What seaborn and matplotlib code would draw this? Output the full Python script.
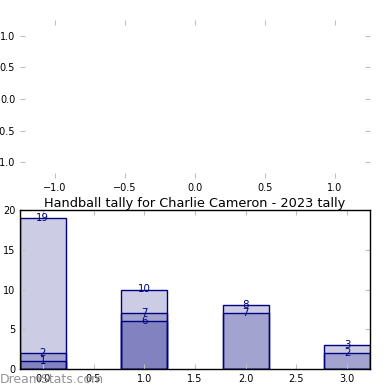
import matplotlib
matplotlib.use("Agg")
import matplotlib.pyplot as plt
import seaborn as sns
import pandas as pd
from matplotlib.ticker import MultipleLocator

# Data
positions = [0, 1, 2, 3]
tally_total = [19, 10, 8, 3]
tally_mid = [2, 7, 7, 2]
tally_low = [1, 6, 0, 0]
title = "Handball tally for Charlie Cameron - 2023 tally"
watermark = "DreamStats.com"

plt.rcParams.update({
    "font.family": ["DejaVu Sans"],
    "xtick.direction": "in",
    "ytick.direction": "in",
    "xtick.top": True,
    "ytick.right": True,
    "xtick.color": "#c0c0c0",
    "ytick.color": "#c0c0c0",
    "xtick.labelcolor": "black",
    "ytick.labelcolor": "black",
    "xtick.major.size": 3.5,
    "ytick.major.size": 3.5,
    "xtick.labelsize": 7.0,
    "ytick.labelsize": 7.0,
    "axes.linewidth": 1.0,
    "axes.unicode_minus": True,
})

fig = plt.figure(figsize=(3.9, 3.9), dpi=100)
ax_top = fig.add_axes([20/390, 1-178/390, 350/390, 158/390])
ax = fig.add_axes([20/390, 1-369/390, 350/390, 159/390])

# empty top axes (no frame)
ax_top.set_frame_on(False)
ax_top.set_xlim(-1.25, 1.25)
ax_top.set_ylim(-1.25, 1.25)
ax_top.xaxis.set_major_locator(MultipleLocator(0.5))
ax_top.yaxis.set_major_locator(MultipleLocator(0.5))

face = (0, 0, 0.5, 0.2)
for vals in (tally_total, tally_mid, tally_low):
    df = pd.DataFrame({"x": positions, "y": vals})
    sns.barplot(data=df, x="x", y="y", native_scale=True, width=0.45,
                errorbar=None, facecolor=face, edgecolor="navy",
                linewidth=1.0, ax=ax)
    for xp, v in zip(positions, vals):
        if v > 0:
            ax.text(xp, v, str(v), ha="center", va="center",
                    color="navy", fontsize=7.4)

ax.set_xlim(-0.225, 3.225)
ax.set_ylim(0, 20)
ax.xaxis.set_major_locator(MultipleLocator(0.5))
ax.yaxis.set_major_locator(MultipleLocator(5))
ax.set_xlabel("")
ax.set_ylabel("")
for s in ax.spines.values():
    s.set_color("black")
ax.set_title(title, fontsize=9.3, pad=2)

fig.text(0.0, 0.011, watermark, color="#888888", alpha=0.9, fontsize=8.9,
         ha="left", va="bottom")

fig.savefig("out.png", dpi=100)
